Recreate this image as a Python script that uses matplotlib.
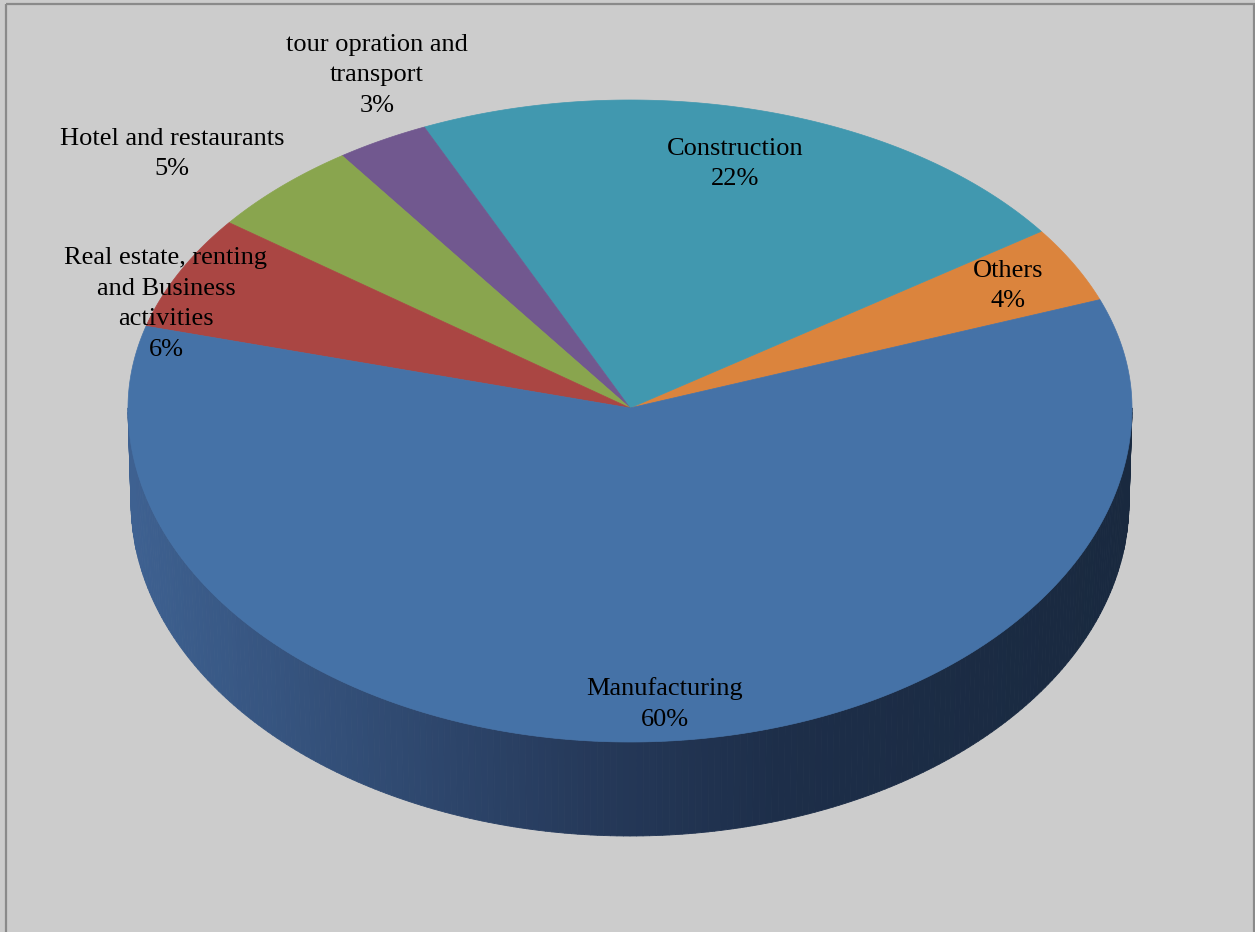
import matplotlib.pyplot as plt
import numpy as np
from matplotlib.patches import Polygon, Rectangle
from matplotlib.collections import PolyCollection
from matplotlib.colors import LinearSegmentedColormap

plt.rcParams['font.family'] = ['Liberation Serif', 'DejaVu Serif']

# sectors listed counter-clockwise, starting from the right-hand side
sectors = ['Others', 'Construction', 'tour opration and\ntransport',
           'Hotel and restaurants', 'Real estate, renting\nand Business\nactivities',
           'Manufacturing']
shares = [4, 22, 3, 5, 6, 60]
colors = ['#db843d', '#4198af', '#71588f', '#89a54e', '#aa4643', '#4572a7']

# label centres (pixels)
label_xy = [(1008, 286), (735, 164), (377, 75), (172, 154), (166, 304), (665, 704)]

# geometry of the tilted disc (pixels)
cx, cy = 630, 408
rx = 502
ry_top, ry_bot = 308, 334
depth = 94
start = 20.6


def rim(t, drop=0, shrink=0):
    t = np.radians(np.asarray(t, dtype=float))
    ry = np.where(np.sin(t) >= 0, ry_top, ry_bot)
    return cx + (rx - shrink) * np.cos(t), cy - ry * np.sin(t) + drop


fig = plt.figure(figsize=(12.55, 9.32), dpi=100)
fig.patch.set_facecolor('#cccccc')
ax = fig.add_axes([0, 0, 1, 1])
ax.set_xlim(0, 1255)
ax.set_ylim(932, 0)
ax.axis('off')

# outer frame
ax.add_patch(Rectangle((5.5, 3.5), 1248, 940, fill=False, edgecolor='#8a8a8a', lw=1.6))

# side wall of the pie with a left-to-right shading
shade = LinearSegmentedColormap.from_list(
    'side', [(0, '#3e6191'), (0.45, '#263a5b'), (0.65, '#1d2e49'), (1, '#19293f')])
ts = np.linspace(180, 360, 241)
polys, cols = [], []
for t0, t1 in zip(ts[:-1], ts[1:]):
    x0, y0 = rim(t0)
    x1, y1 = rim(t1)
    bx0, by0 = rim(t0, depth, 3)
    bx1, by1 = rim(t1, depth, 3)
    polys.append([(x0, y0), (x1, y1), (bx1, by1), (bx0, by0)])
    cols.append(shade(((x0 + x1) / 2 - (cx - rx)) / (2 * rx)))
ax.add_collection(PolyCollection(polys, facecolors=cols, edgecolors=cols, linewidths=0.6))

# top face wedges
bounds = start + 360 * np.concatenate([[0], np.cumsum(shares)]) / sum(shares)
for a0, a1, col in zip(bounds[:-1], bounds[1:], colors):
    tt = np.linspace(a0, a1, max(int((a1 - a0) * 2), 4))
    xs, ys = rim(tt)
    pts = np.column_stack([np.r_[cx, xs], np.r_[cy, ys]])
    ax.add_patch(Polygon(pts, closed=True, facecolor=col, edgecolor=col, lw=0.5))

# data labels
for name, share, (lx, ly) in zip(sectors, shares, label_xy):
    ax.text(lx, ly, f'{name}\n{share}%', ha='center', va='center',
            multialignment='center', fontsize=19, linespacing=1.5, color='black')

fig.savefig('out.png', dpi=100, facecolor=fig.get_facecolor())
